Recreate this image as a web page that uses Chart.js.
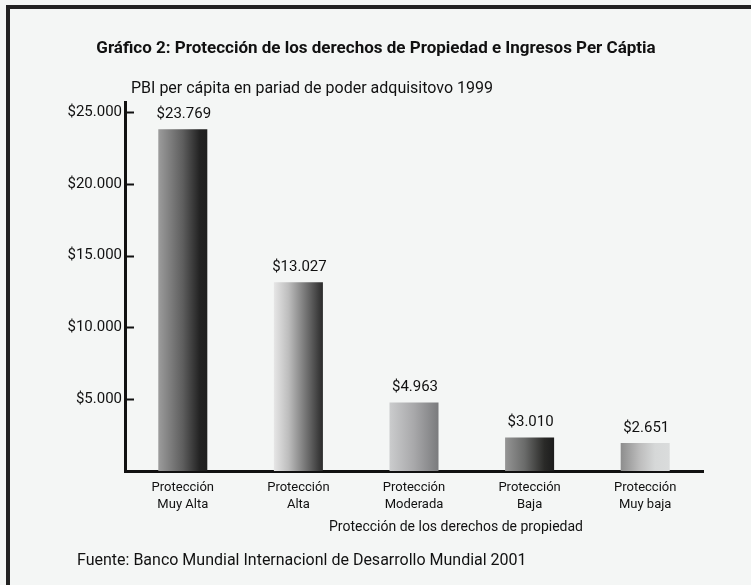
<!DOCTYPE html>
<html>
<head>
<meta charset="utf-8">
<script src="https://cdn.jsdelivr.net/npm/chart.js@4.4.1/dist/chart.umd.min.js"></script>
<style>
  html, body { margin: 0; padding: 0; background: #f4f6f5; }
  #wrap { width: 751px; height: 585px; }
</style>
</head>
<body>
<div id="wrap"><canvas id="canvas" width="751" height="585"></canvas></div>
<script>
var categories = [
  ["Protección", "Muy Alta"],
  ["Protección", "Alta"],
  ["Protección", "Moderada"],
  ["Protección", "Baja"],
  ["Protección", "Muy baja"]
];
// bar heights as drawn in the picture
var barValues = [23800, 13150, 4770, 2330, 1950];
// value labels printed above the bars
var valueLabels = ["$23.769", "$13.027", "$4.963", "$3.010", "$2.651"];
var tickValues = [5000, 10000, 15000, 20000, 25000];
var tickLabels = ["$5.000", "$10.000", "$15.000", "$20.000", "$25.000"];

var chartTitle = "Gráfico 2: Protección de los derechos de Propiedad e Ingresos Per Cáptia";
var yTitle = "PBI per cápita en pariad de poder adquisitovo 1999";
var xTitle = "Protección de los derechos de propiedad";
var sourceText = "Fuente: Banco Mundial Internacionl de Desarrollo Mundial 2001";

// gradient stops per bar, left to right
var barStops = [
  [[0, "#9c9c9c"], [0.5, "#5e5e5e"], [0.85, "#222222"], [1, "#1e1e1e"]],
  [[0, "#e6e6e6"], [0.3, "#bdbdbd"], [0.7, "#6a6a6a"], [1, "#2a2a2a"]],
  [[0, "#cbcccd"], [0.5, "#a8a8aa"], [1, "#7a7b7d"]],
  [[0, "#959595"], [0.4, "#6a6b6a"], [0.8, "#2a2a28"], [1, "#1c1c1c"]],
  [[0, "#8d8d8d"], [0.4, "#bebebe"], [0.7, "#d6d8d8"], [1, "#dadcdc"]]
];

var FONT = "'Liberation Sans Narrow', 'Roboto', sans-serif";

var frame = {
  id: 'frame',
  beforeDraw: function(chart) {
    var c = chart.ctx;
    c.save();
    c.fillStyle = "#f4f6f5";
    c.fillRect(0, 0, chart.width, chart.height);
    c.fillStyle = "#222222";
    c.fillRect(6, 5, chart.width - 6, 4);
    c.fillRect(6, 5, 4, chart.height - 5);
    c.restore();
  },
  afterDraw: function(chart) {
    var c = chart.ctx;
    var y = chart.scales.y;
    var x = chart.scales.x;
    c.save();
    // tick marks pointing into the plot
    c.strokeStyle = "#111";
    c.lineWidth = 2;
    tickValues.forEach(function(v) {
      var py = Math.round(y.getPixelForValue(v)) + 0.5;
      c.beginPath();
      c.moveTo(chart.chartArea.left, py);
      c.lineTo(chart.chartArea.left + 9, py);
      c.stroke();
    });
    // value labels
    c.fillStyle = "#111";
    c.font = "15px " + FONT;
    c.textAlign = "center";
    c.textBaseline = "middle";
    var meta = chart.getDatasetMeta(0);
    meta.data.forEach(function(bar, i) {
      c.fillText(valueLabels[i], bar.x + 1, bar.y - 15);
    });
    // texts
    c.font = "bold 17px " + FONT;
    c.fillText(chartTitle, 376, 49);
    c.font = "16px " + FONT;
    c.textAlign = "left";
    c.fillText(yTitle, 131, 89);
    c.fillText(sourceText, 77, 561);
    c.font = "14px " + FONT;
    c.textAlign = "center";
    c.fillText(xTitle, 456, 527);
    c.restore();
  }
};

var ctx = document.getElementById('canvas').getContext('2d');
var config = {
  type: 'bar',
  data: {
    labels: categories,
    datasets: [{
      data: barValues,
      barPercentage: 0.424,
      categoryPercentage: 1,
      borderWidth: 0,
      backgroundColor: function(c) {
        var chart = c.chart;
        var stops = barStops[c.dataIndex];
        if (!chart.chartArea || !chart.scales.x) return stops[0][1];
        var xs = chart.scales.x;
        var cx = xs.getPixelForValue(c.dataIndex);
        var w = (chart.chartArea.width / categories.length) * 0.424;
        var g = chart.ctx.createLinearGradient(cx - w / 2, 0, cx + w / 2, 0);
        stops.forEach(function(s) { g.addColorStop(s[0], s[1]); });
        return g;
      }
    }]
  },
  options: {
    responsive: false,
    animation: false,
    layout: { padding: { top: 102, right: 48, left: 0, bottom: 0 } },
    plugins: {
      legend: { display: false },
      tooltip: { enabled: false },
      title: { display: false }
    },
    scales: {
      x: {
        grid: { display: false, drawTicks: false },
        border: { color: "#111", width: 3 },
        ticks: {
          color: "#111",
          padding: 8,
          maxRotation: 0,
          autoSkip: false,
          font: { family: FONT, size: 13, lineHeight: 1.3 }
        },
        afterFit: function(scale) { scale.height = 114; }
      },
      y: {
        min: 0,
        max: 25700,
        grid: { display: false, drawTicks: false },
        border: { color: "#111", width: 3 },
        afterBuildTicks: function(scale) {
          scale.ticks = tickValues.map(function(v) { return { value: v }; });
        },
        ticks: {
          color: "#111",
          padding: 3,
          font: { family: FONT, size: 15 },
          callback: function(value) {
            var i = tickValues.indexOf(value);
            return i >= 0 ? tickLabels[i] : "";
          }
        },
        afterFit: function(scale) { scale.width = 125; }
      }
    }
  },
  plugins: [frame]
};

var chart = new Chart(ctx, config);
</script>
</body>
</html>
